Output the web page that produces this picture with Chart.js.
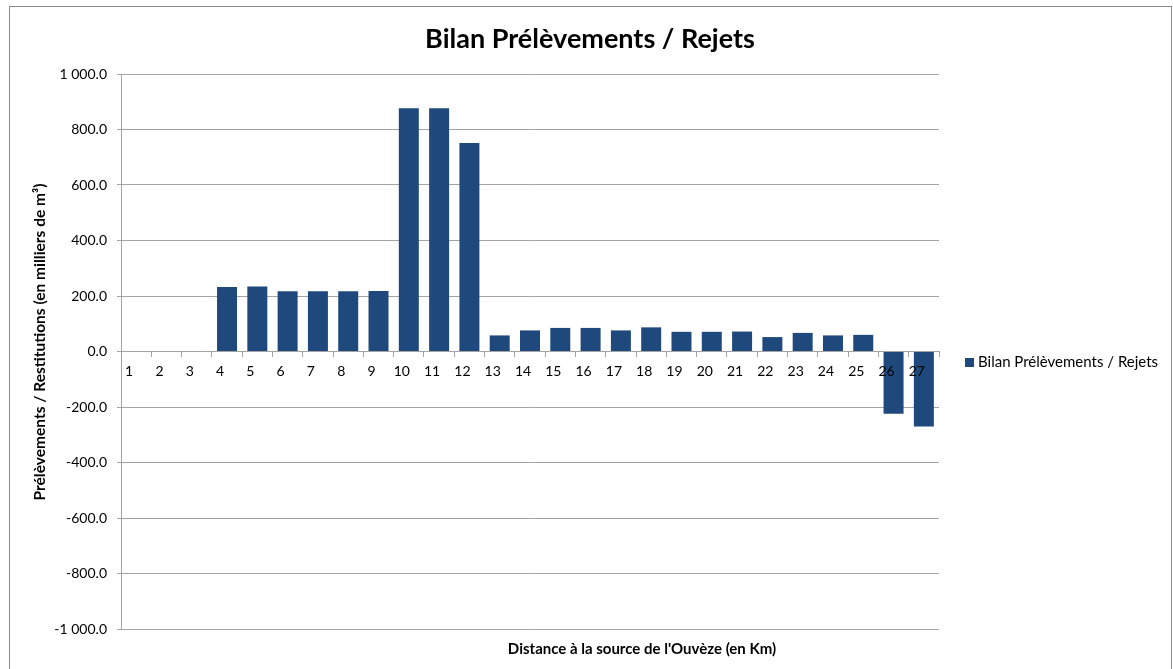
<!DOCTYPE html>
<html>
<head>
<meta charset="utf-8">
<script src="https://cdn.jsdelivr.net/npm/chart.js@4"></script>
<style>
  html, body { margin: 0; padding: 0; background: #fff; overflow: hidden; }
  #frame { position: absolute; left: 9px; top: 6px; width: 1161px; height: 700px; border: 1px solid #8c8c8c; }
  #wrap { position: absolute; left: 0; top: 0; width: 1173px; height: 669px; }
</style>
</head>
<body>
<div id="frame"></div>
<div id="wrap"><canvas id="bilanChart"></canvas></div>
<script>
var km = ["1", "2", "3", "4", "5", "6", "7", "8", "9", "10", "11", "12", "13", "14",
          "15", "16", "17", "18", "19", "20", "21", "22", "23", "24", "25", "26", "27"];
// milliers de m3, par km depuis la source
var bilan = [0, 0, 0, 232, 234, 217, 217, 217, 218, 877, 877, 751, 58, 76,
             85, 85, 76, 87, 71, 71, 72, 52, 67, 58, 60, -224, -270];
var yTicks = [-1000, -800, -600, -400, -200, 0, 200, 400, 600, 800, 1000];

var chartTitle = "Bilan Prélèvements / Rejets";
var yTitle = "Prélèvements / Restitutions (en milliers de m³)";
var xTitle = "Distance à la source de l'Ouvèze (en Km)";

var FONT = "Lato, 'Open Sans', sans-serif";
var GRID = "#a3a3a3";

function fmt(v) {
    var s = Math.abs(v).toFixed(1).split(".");
    var ent = s[0].replace(/\B(?=(\d{3})+(?!\d))/g, " ");
    return (v < 0 ? "-" : "") + ent + "." + s[1];
}

// titres, legende et titres d'axes dessines a la main
var decor = {
    id: "decor",
    afterDraw: function (chart) {
        var ctx = chart.ctx;
        var ds = chart.data.datasets[0];
        ctx.save();
        ctx.fillStyle = "#000";
        ctx.textBaseline = "middle";

        ctx.font = "bold 27px " + FONT;
        ctx.textAlign = "center";
        ctx.fillText(chartTitle, 590, 39);

        ctx.font = "bold 15px " + FONT;
        ctx.fillText(xTitle, 642, 649);

        ctx.translate(40, 342);
        ctx.rotate(-Math.PI / 2);
        ctx.font = "bold 15.5px " + FONT;
        ctx.fillText(yTitle, 0, 0);
        ctx.restore();

        ctx.save();
        ctx.fillStyle = ds.backgroundColor;
        ctx.fillRect(965, 358, 9, 9);
        ctx.fillStyle = "#000";
        ctx.font = "15px " + FONT;
        ctx.textAlign = "left";
        ctx.textBaseline = "middle";
        ctx.fillText(ds.label, 978, 362);
        ctx.restore();
    }
};

new Chart(document.getElementById("bilanChart"), {
    type: "bar",
    data: {
        labels: km,
        datasets: [{
            label: "Bilan Prélèvements / Rejets",
            data: bilan,
            backgroundColor: "#1F497D",
            borderWidth: 0,
            categoryPercentage: 1.0,
            barPercentage: 0.66
        }]
    },
    options: {
        responsive: true,
        maintainAspectRatio: false,
        animation: false,
        layout: { padding: { left: 0, top: 74, right: 234, bottom: 40 } },
        plugins: {
            legend: { display: false },
            title: { display: false },
            tooltip: { enabled: false }
        },
        scales: {
            x: {
                position: { y: 0 },
                grid: {
                    display: true,
                    drawOnChartArea: false,
                    drawTicks: true,
                    tickLength: 5,
                    color: GRID,
                    offset: true,
                    z: 1
                },
                border: { display: true, color: GRID, width: 1, z: 1 },
                ticks: {
                    color: "#000",
                    font: { family: FONT, size: 14 },
                    padding: 7,
                    labelOffset: -7,
                    maxRotation: 0,
                    autoSkip: false,
                    z: 1
                }
            },
            y: {
                min: -1000,
                max: 1000,
                afterBuildTicks: function (scale) {
                    scale.ticks = yTicks.map(function (v) { return { value: v }; });
                },
                afterFit: function (scale) { scale.width = 121; },
                grid: { color: GRID, tickLength: 4 },
                border: { display: true, color: GRID, width: 1 },
                ticks: {
                    color: "#000",
                    font: { family: FONT, size: 14 },
                    padding: 10,
                    callback: function (v) { return fmt(v); }
                }
            }
        }
    },
    plugins: [decor]
});
</script>
</body>
</html>
